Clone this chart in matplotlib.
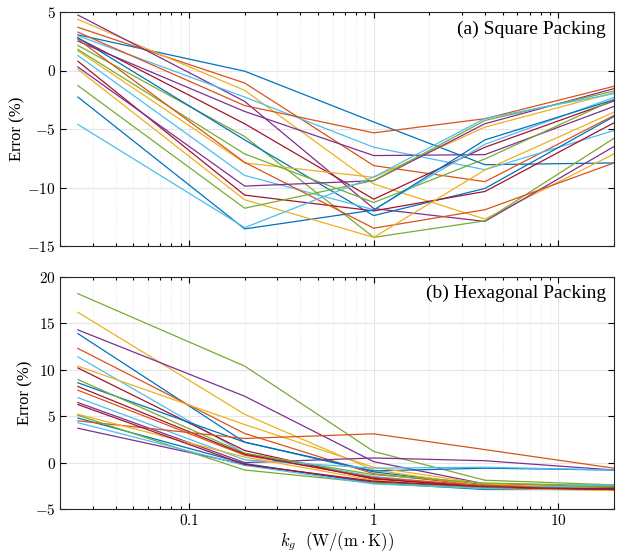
import matplotlib
matplotlib.use("Agg")
import matplotlib.pyplot as plt
import numpy as np
from matplotlib.ticker import LogLocator, NullFormatter, FixedLocator

plt.rcParams['mathtext.fontset'] = 'cm'
plt.rcParams['font.family'] = ['Liberation Serif', 'DejaVu Serif']

kg = [0.025, 0.2, 1, 4, 20]

colors = ['#0072BD', '#D95319', '#EDB120', '#7E2F8E', '#77AC30', '#4DBEEE', '#A2142F']

# (a) Square packing errors (%), one list per case
sq_blue1 = [3.05, -0.06, -4.4, -8.05, -7.9]
sq_red1 = [3.69, -1.07, -8.13, -9.5, -3.84]
sq_yel1 = [4.37, -1.7, -9.7, -12.7, -7.13]
sq_pur1 = [4.74, -2.64, -11.8, -12.9, -6.5]
sq_grn1 = [2.14, -5.64, -14.26, -12.85, -5.79]
sq_lbl1 = [2.97, -2.27, -6.56, -8.48, -5.13]
sq_drd1 = [2.77, -4.55, -11.0, -6.56, -2.6]
sq_blue2 = [2.8, -5.93, -12.4, -10.08, -3.93]
sq_red2 = [3.28, -3.0, -5.33, -4.12, -1.35]
sq_yel2 = [1.68, -7.9, -9.13, -4.84, -1.9]
sq_pur2 = [2.51, -3.5, -7.27, -7.19, -3.07]
sq_grn2 = [1.8, -7.13, -11.28, -7.56, -2.5]
sq_lbl2 = [1.28, -8.97, -11.9, -6.3, -2.3]
sq_drd2 = [0.79, -10.65, -12.0, -10.34, -4.47]
sq_blue3 = [-2.27, -13.54, -11.93, -5.93, -2.5]
sq_red3 = [2.68, -7.85, -13.48, -11.9, -7.9]
sq_yel3 = [0.1, -11.05, -14.26, -8.5, -3.56]
sq_pur3 = [0.3, -9.88, -9.42, -4.55, -1.55]
sq_grn3 = [-1.29, -11.77, -9.4, -4.27, -1.76]
sq_lbl3 = [-4.61, -13.43, -9.1, -4.1, -1.98]

square_cases = [sq_blue1, sq_red1, sq_yel1, sq_pur1, sq_grn1, sq_lbl1, sq_drd1,
                sq_blue2, sq_red2, sq_yel2, sq_pur2, sq_grn2, sq_lbl2, sq_drd2,
                sq_blue3, sq_red3, sq_yel3, sq_pur3, sq_grn3, sq_lbl3]

# (b) Hexagonal packing errors (%)
hx_blue1 = [13.9, 2.2, -1.0, -2.4, -2.6]
hx_red1 = [12.3, 3.14, -1.2, -2.5, -2.7]
hx_yel1 = [16.2, 5.2, -0.8, -2.5, -2.8]
hx_pur1 = [14.3, 7.15, 0.1, -2.3, -2.6]
hx_grn1 = [18.2, 10.4, 1.2, -1.9, -2.4]
hx_lbl1 = [11.4, 1.0, -1.5, -2.6, -2.4]
hx_drd1 = [10.2, 1.3, -1.8, -2.5, -2.7]
hx_blue2 = [8.6, 2.2, -0.9, -0.6, -0.8]
hx_red2 = [7.8, 0.8, -1.6, -2.5, -2.6]
hx_yel2 = [10.4, 4.1, -0.5, -2.3, -2.8]
hx_pur2 = [6.47, 0.0, 0.5, 0.2, -0.8]
hx_grn2 = [8.95, 1.0, -1.3, -2.2, -2.5]
hx_lbl2 = [7.0, 0.3, -0.6, -0.5, -0.8]
hx_drd2 = [8.2, 0.9, -1.7, -2.7, -2.8]
hx_blue3 = [4.8, -0.1, -2.2, -2.9, -2.9]
hx_red3 = [4.5, 2.6, 3.1, 1.4, -0.6]
hx_yel3 = [5.2, 0.6, -1.9, -2.8, -3.0]
hx_pur3 = [3.7, -0.2, -2.1, -2.7, -2.9]
hx_grn3 = [5.1, -0.8, -2.2, -2.7, -2.6]
hx_lbl3 = [4.3, -0.3, -2.3, -2.8, -2.4]
hx_drd3 = [6.26, -0.2, -2.0, -2.6, -2.9]

hex_cases = [hx_blue1, hx_red1, hx_yel1, hx_pur1, hx_grn1, hx_lbl1, hx_drd1,
             hx_blue2, hx_red2, hx_yel2, hx_pur2, hx_grn2, hx_lbl2, hx_drd2,
             hx_blue3, hx_red3, hx_yel3, hx_pur3, hx_grn3, hx_lbl3, hx_drd3]

sq_yticks = [5, 0, -5, -10, -15]
hx_yticks = [20, 15, 10, 5, 0, -5]
x_ticks = [0.1, 1, 10]
x_ticklabels = ['0.1', '1', '10']

fig = plt.figure(figsize=(6.32, 5.52), dpi=100)
ax1 = fig.add_axes([60/632, 1-246/552, 554/632, 234/552])
ax2 = fig.add_axes([60/632, 1-509/552, 554/632, 232/552])

def fmt_tick(t):
    return r'$%s$' % ('{-}%d' % -t if t < 0 else '%d' % t)

def style(ax, ylim, yticks, showx):
    ax.set_xscale('log')
    ax.set_xlim(0.02, 20)
    ax.set_ylim(*ylim)
    ax.set_yticks(yticks)
    ax.set_yticklabels([fmt_tick(t) for t in yticks])
    ax.xaxis.set_major_locator(FixedLocator(x_ticks))
    ax.xaxis.set_minor_locator(LogLocator(base=10, subs=np.arange(2, 10)))
    ax.xaxis.set_minor_formatter(NullFormatter())
    if showx:
        ax.set_xticklabels([r'$%s$' % l for l in x_ticklabels])
    else:
        ax.set_xticklabels([])
    ax.grid(True, which='major', color='#e6e6e6', lw=0.8)
    ax.grid(True, which='minor', axis='x', color='#dcdcdc', lw=0.6, ls=(0, (1, 2)))
    ax.set_axisbelow(True)
    ax.tick_params(which='both', direction='in', top=True, right=True, labelsize=11, width=0.8, pad=3)
    ax.tick_params(which='major', length=4)
    ax.tick_params(which='minor', length=2.5)
    for s in ax.spines.values():
        s.set_linewidth(0.8)
        s.set_color('#262626')
    ax.set_ylabel('Error (%)', fontsize=12, labelpad=1)

for i, y in enumerate(square_cases):
    ax1.plot(kg, y, color=colors[i % 7], lw=0.9)
for i, y in enumerate(hex_cases):
    ax2.plot(kg, y, color=colors[i % 7], lw=0.9)

style(ax1, (-15, 5), sq_yticks, False)
style(ax2, (-5, 20), hx_yticks, True)

ax1.text(0.985, 0.965, '(a) Square Packing', transform=ax1.transAxes, ha='right', va='top', fontsize=14)
ax2.text(0.985, 0.965, '(b) Hexagonal Packing', transform=ax2.transAxes, ha='right', va='top', fontsize=14)
ax2.set_xlabel(r'$k_g\ \ \mathrm{(W/(m\cdot K))}$', fontsize=12, labelpad=1)

fig.savefig('out.png', dpi=100)
